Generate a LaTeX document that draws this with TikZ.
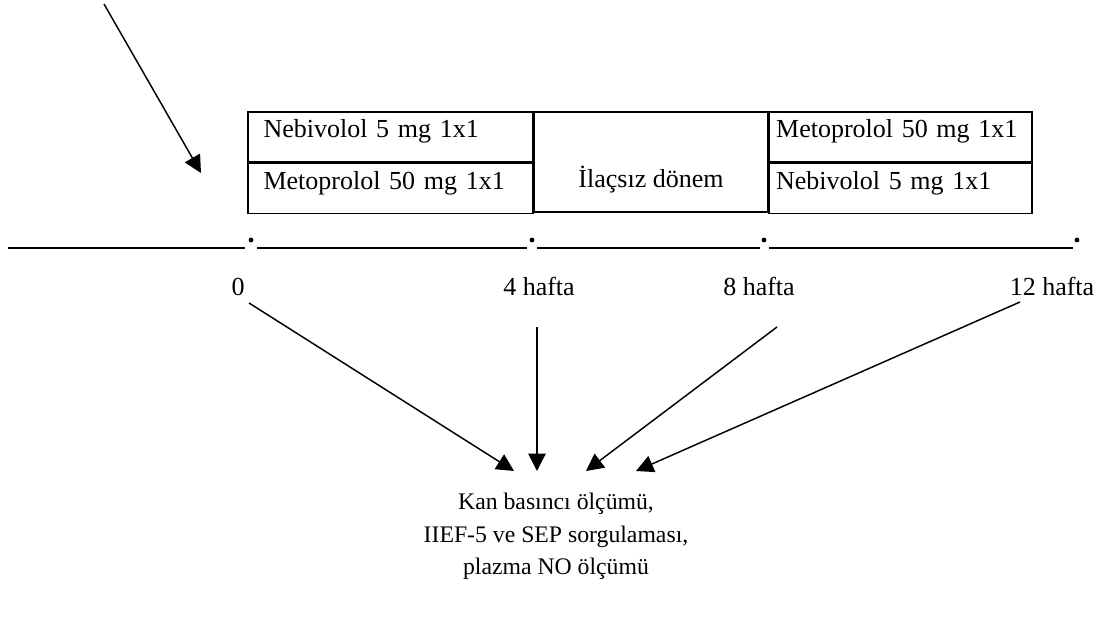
\documentclass[tikz,border=0pt]{standalone}
\usepackage{fontspec}
\setmainfont{Liberation Serif}
\usetikzlibrary{positioning,arrows.meta}

\begin{document}
\begin{tikzpicture}[
  x=0.75pt, y=-0.75pt,
  cell/.style={draw, line width=1.25pt, inner ysep=0pt,
               text height=19.3pt, text depth=18.2pt,
               font=\fontsize{19.5}{23}\selectfont},
  leftcell/.style={cell, align=left, text width=#1},
  tick/.style={circle, fill, inner sep=0pt, minimum size=3.6pt},
  axis/.style={line width=1.3pt},
  week/.style={anchor=base, font=\fontsize{19.5}{23}\selectfont},
  pointer/.style={line width=1.1pt, -{Triangle[length=13pt, width=13pt]}}
]
\useasboundingbox (0,0) rectangle (1101,617);

\node[leftcell=190.15pt, inner xsep=11.8pt, anchor=north west] (neb1) at (247,111) {Nebivolol 5 mg 1x1};
\node[leftcell=190.15pt, inner xsep=11.8pt, below=0pt of neb1] (met1) {Metoprolol 50 mg 1x1};
\node[cell, minimum width=174.75pt, inner xsep=0pt, text height=57pt, text depth=18pt,
      anchor=north west] (bos) at (neb1.north east) {İlaçsız dönem};
\node[leftcell=186.75pt, inner xsep=5.25pt, anchor=north west] (met2) at (bos.north east) {Metoprolol 50 mg 1x1};
\node[leftcell=186.75pt, inner xsep=5.25pt, below=0pt of met2] (neb2) {Nebivolol 5 mg 1x1};

\draw[axis] (8,248) -- (245,248);
\draw[axis] (257,248) -- (527,248);
\draw[axis] (537,248) -- (760,248);
\draw[axis] (769,248) -- (1073,248);
\node[tick] (d0) at (251,240) {};
\node[tick] (d4) at (532,240) {};
\node[tick] (d8) at (764,240) {};
\node[tick] (d12) at (1077,240) {};

\node[week] (w0) at (238,295) {0};
\node[week] (w4) at (539,295) {4 hafta};
\node[week] (w8) at (759,295) {8 hafta};
\node[week] (w12) at (1052,295) {12 hafta};

\node[align=center, inner sep=0pt, anchor=north, font=\fontsize{17.8}{24.4}\selectfont] (olcum) at (556,493)
  {Kan basıncı ölçümü,\\ IIEF-5 ve SEP sorgulaması,\\ plazma NO ölçümü};

\coordinate (ust) at (104,4);
\coordinate (giris) at (201,173);
\coordinate (s0) at (249,303);
\coordinate (s4) at (537,327);
\coordinate (s8) at (777,327);
\coordinate (s12) at (1020,302);
\coordinate (e0) at (514,471);
\coordinate (e4) at (537,471);
\coordinate (e8) at (586,471);
\coordinate (e12) at (636,471);

\draw[pointer] (ust) -- (giris);
\draw[pointer] (s0) -- (e0);
\draw[pointer] (s4) -- (e4);
\draw[pointer] (s8) -- (e8);
\draw[pointer] (s12) -- (e12);
\end{tikzpicture}
\end{document}
